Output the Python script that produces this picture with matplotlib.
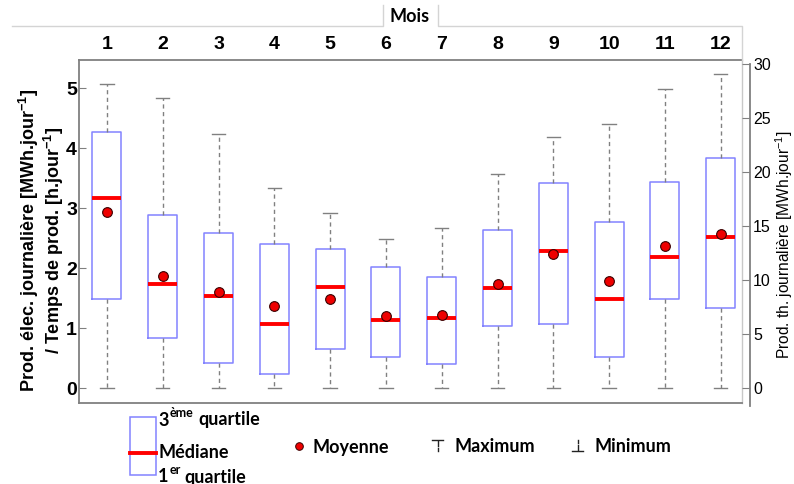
import matplotlib.pyplot as plt
from matplotlib.patches import Rectangle

# monthly stats, left axis units
months = ["1", "2", "3", "4", "5", "6", "7", "8", "9", "10", "11", "12"]
maxima = [5.07, 4.83, 4.24, 3.34, 2.91, 2.48, 2.67, 3.57, 4.19, 4.40, 4.98, 5.23]
q3 = [4.26, 2.88, 2.58, 2.40, 2.31, 2.02, 1.85, 2.63, 3.42, 2.76, 3.44, 3.83]
medians = [3.17, 1.74, 1.54, 1.06, 1.69, 1.14, 1.16, 1.66, 2.29, 1.48, 2.19, 2.52]
means = [2.93, 1.86, 1.60, 1.36, 1.49, 1.20, 1.21, 1.73, 2.24, 1.78, 2.36, 2.56]
q1 = [1.49, 0.83, 0.41, 0.23, 0.65, 0.52, 0.40, 1.03, 1.07, 0.51, 1.49, 1.33]
minima = [0, 0, 0, 0, 0, 0, 0, 0, 0, 0, 0, 0]

left_ticks = [0, 1, 2, 3, 4, 5]
right_ticks = [0, 5, 10, 15, 20, 25, 30]
ratio = 30 / 5.4

plt.rcParams['font.family'] = ['Liberation Sans', 'DejaVu Sans']
plt.rcParams['mathtext.fontset'] = 'custom'
plt.rcParams['mathtext.rm'] = 'Liberation Sans'
plt.rcParams['mathtext.bf'] = 'Liberation Sans:bold'

W, H = 794, 484
fig = plt.figure(figsize=(W / 100, H / 100), dpi=100)
ax = fig.add_axes([79 / W, 1 - 403 / H, (742 - 79) / W, (403 - 60) / H])

stats = []
for i in range(len(months)):
    stats.append(dict(med=medians[i], q1=q1[i], q3=q3[i], whislo=minima[i],
                      whishi=maxima[i], mean=means[i], label=months[i]))

gray = '#808080'
ax.bxp(stats, positions=range(1, 13), widths=0.52, capwidths=0.24,
       showmeans=True, showfliers=False,
       boxprops=dict(color='#8383ff', linewidth=1.1),
       medianprops=dict(color='#ff0000', linewidth=2.8),
       whiskerprops=dict(color=gray, linewidth=1, linestyle=(0, (3, 2.5))),
       capprops=dict(color=gray, linewidth=1),
       meanprops=dict(marker='o', markerfacecolor='#ee0000',
                      markeredgecolor='#3a0000', markersize=7,
                      markeredgewidth=0.8))

ax.set_xlim(0.5, 12.38)
ylo, yhi = -0.25, 5.467
ax.set_ylim(ylo, yhi)
ax.set_yticks(left_ticks)
ax.xaxis.tick_top()
ax.tick_params(axis='x', length=0, pad=5)
ax.tick_params(axis='y', direction='in', length=5, color=gray, pad=1.5)
for lab in ax.get_xticklabels() + ax.get_yticklabels():
    lab.set_fontweight('bold')
    lab.set_fontsize(14)
for side in ['left', 'top', 'bottom']:
    ax.spines[side].set_color(gray)
    ax.spines[side].set_linewidth(1.3)
ax.spines['right'].set_color('#c8c8c8')
ax.spines['right'].set_linewidth(1)

ax2 = ax.twinx()
ax2.set_ylim(ylo * ratio, yhi * ratio)
ax2.set_yticks(right_ticks)
ax2.spines['right'].set_position(('outward', 6))
ax2.spines['right'].set_bounds(ylo * ratio - 0.3, 30)
for side in ['left', 'top', 'bottom']:
    ax2.spines[side].set_visible(False)
ax2.spines['right'].set_color(gray)
ax2.spines['right'].set_linewidth(1.3)
ax2.tick_params(axis='y', direction='in', length=6, color=gray, pad=2,
                labelsize=11.5)

sup = r'$^{\mathbf{-1}}$'
fig.text(41 / W, 1 - 240 / H,
         'Prod. élec. journalière [MWh.jour' + sup + ']\n'
         '/ Temps de prod. [h.jour' + sup + ']',
         rotation=90, ha='center', va='center', ma='center', fontsize=13,
         fontweight='bold', linespacing=1.05)
fig.text(784 / W, 1 - 245 / H, 'Prod. th. journalière [MWh.jour$^{-1}$]',
         rotation=90, ha='center', va='center', fontsize=11.2)

# overlay in pixel coordinates for the field tab and the legend
lax = fig.add_axes([0, 0, 1, 1])
lax.set_xlim(0, W)
lax.set_ylim(H, 0)
lax.axis('off')

tab = '#d4d4d4'
lax.plot([12, 383, 383], [26, 26, 5], color=tab, lw=1)
lax.plot([438, 438, 742, 742], [5, 26, 26, 60], color=tab, lw=1)
lax.text(410, 16, 'Mois', ha='center', va='center', fontsize=13,
         fontweight='bold', family='Lato')

lfont = dict(fontsize=13, fontweight='bold', family='Lato', va='center')
sfont = dict(fontsize=9, fontweight='bold', family='Lato', va='center')
lax.add_patch(Rectangle((130, 417), 26, 58, fill=False,
                        edgecolor='#8383ff', lw=1.1))
lax.plot([130, 156], [452.5, 452.5], color='#ff0000', lw=2.8)
lax.text(158, 420, '3', **lfont)
lax.text(170, 413, 'ème', **sfont)
lax.text(198, 420, 'quartile', **lfont)
lax.text(158, 452, 'Médiane', **lfont)
lax.text(158, 477, '1', **lfont)
lax.text(170, 470, 'er', **sfont)
lax.text(184, 477, 'quartile', **lfont)

lax.plot([299], [446], marker='o', markersize=5.5, markerfacecolor='#ee0000',
         markeredgecolor='#3a0000', markeredgewidth=0.7, linestyle='none')
lax.text(312, 447, 'Moyenne', **lfont)

lax.plot([432, 443], [440, 440], color='#222222', lw=1)
lax.plot([437.5, 437.5], [441, 446], color='#222222', lw=1)
lax.plot([437.5, 437.5], [448, 451], color='#222222', lw=1)
lax.text(454, 447, 'Maximum', **lfont)

lax.plot([572, 583], [451, 451], color='#222222', lw=1)
lax.plot([577.5, 577.5], [445, 450], color='#222222', lw=1)
lax.plot([577.5, 577.5], [440, 443], color='#222222', lw=1)
lax.text(594, 447, 'Minimum', **lfont)

fig.savefig('out.png', dpi=100)
